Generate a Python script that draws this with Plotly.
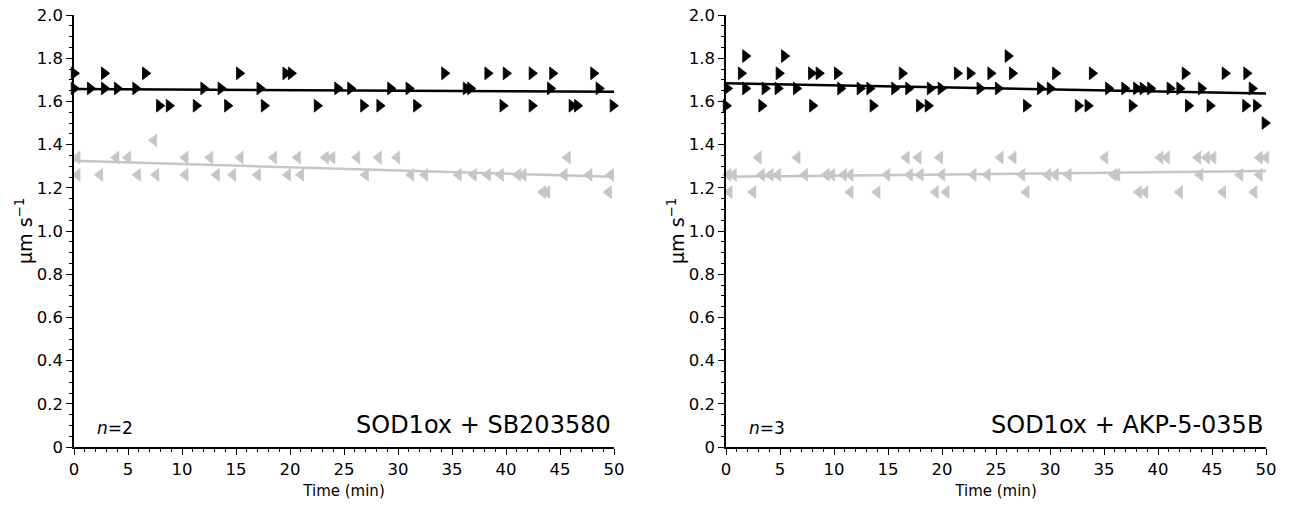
import plotly.graph_objects as go

# ---------------------------------------------------------------- data
# left panel: SOD1ox + SB203580 (n=2)
left_black_t = [0, 2.8, 6.6, 15.3, 19.6, 20.1, 34.3, 38.3, 40.0, 42.4, 44.3, 48.1,
                0, 1.5, 2.8, 4.0, 5.7, 12.0, 13.6, 17.2, 24.4, 25.6, 29.3, 31.0, 36.3, 36.7, 44.1, 48.6,
                7.9, 8.8, 11.3, 14.2, 17.6, 22.5, 26.8, 28.3, 31.7, 39.7, 42.4, 46.1, 46.6, 49.9]
left_black_v = [1.73] * 12 + [1.66] * 16 + [1.58] * 14

left_gray_t = [7.4,
               0.3, 3.9, 5.0, 10.3, 12.6, 15.4, 18.5, 20.7, 23.3, 23.9, 26.2, 28.2, 29.9, 45.7,
               0.3, 2.4, 5.9, 7.6, 10.3, 13.2, 14.7, 17.0, 19.8, 21.0, 27.0, 31.2, 32.5, 35.6,
               37.0, 38.3, 39.5, 41.1, 41.6, 45.4, 47.7, 49.7,
               43.4, 43.8, 49.5]
left_gray_v = [1.42] * 1 + [1.34] * 14 + [1.26] * 22 + [1.18] * 3

# right panel: SOD1ox + AKP-5-035B (n=3)
right_black_t = [1.8, 5.4, 26.1,
                 1.4, 4.9, 7.9, 8.6, 10.3, 16.3, 21.4, 22.6, 24.5, 26.5, 30.5, 33.9, 42.5, 46.2, 48.2,
                 0.1, 1.8, 3.6, 4.8, 6.5, 10.6, 12.4, 13.3, 15.6, 16.9, 18.9, 19.9, 23.5, 25.2,
                 29.1, 30.0, 35.4, 36.9, 38.0, 38.6, 39.3, 41.1, 42.0, 44.0, 48.7,
                 0, 3.3, 8.0, 13.6, 17.9, 18.7, 27.8, 32.6, 33.5, 37.6, 42.8, 44.8, 48.1, 49.1,
                 49.9]
right_black_v = [1.81] * 3 + [1.73] * 15 + [1.66] * 25 + [1.58] * 14 + [1.50] * 1

right_gray_t = [3.0, 6.6, 16.7, 17.8, 19.8, 25.4, 26.6, 35.1, 40.2, 40.8, 43.7, 44.5, 45.1, 49.4, 50.0,
                0.2, 0.7, 3.3, 4.1, 4.8, 7.3, 9.3, 9.8, 10.9, 11.5, 14.9, 17.0, 18.0, 20.0, 22.9,
                24.2, 27.4, 29.8, 30.5, 31.7, 35.9, 36.2, 43.9, 47.6, 49.4,
                0.3, 2.5, 11.5, 14.0, 19.4, 20.4, 27.8, 38.2, 38.8, 42.0, 46.0, 48.9]
right_gray_v = [1.34] * 15 + [1.26] * 25 + [1.18] * 12

# linear trend lines (value at t=0 and t=50)
fit_t = [0, 50]
left_black_fit = [1.657, 1.645]
left_gray_fit = [1.325, 1.251]
right_black_fit = [1.684, 1.637]
right_gray_fit = [1.251, 1.278]

panel_labels = ["SOD1ox + SB203580", "SOD1ox + AKP-5-035B"]
panel_n = ["2", "3"]

y_tickvals = [0, 0.2, 0.4, 0.6, 0.8, 1.0, 1.2, 1.4, 1.6, 1.8, 2.0]
y_ticktext = ["0", "0.2", "0.4", "0.6", "0.8", "1.0", "1.2", "1.4", "1.6", "1.8", "2.0"]
x_tickvals = [0, 5, 10, 15, 20, 25, 30, 35, 40, 45, 50]

# ---------------------------------------------------------------- styling
FONT = "DejaVu Sans"
BLACK = "#000000"
GRAY = "#c6c6c6"
W, H = 1293, 506
ML, MR, MT, MB = 74, 27, 15, 59
plot_w = W - ML - MR
dom_left = [0, 540 / plot_w]
dom_right = [(726 - ML) / plot_w, 1]

fig = go.Figure()

panels = [
    ("x", "y", left_black_t, left_black_v, left_gray_t, left_gray_v, left_black_fit, left_gray_fit),
    ("x2", "y2", right_black_t, right_black_v, right_gray_t, right_gray_v, right_black_fit, right_gray_fit),
]

for xa, ya, bt, bv, gt, gv, bfit, gfit in panels:
    fig.add_trace(go.Scatter(
        x=gt, y=gv, mode="markers", xaxis=xa, yaxis=ya, cliponaxis=False,
        marker=dict(symbol="triangle-left", size=11, color=GRAY,
                    line=dict(width=0.8, color=GRAY)),
        showlegend=False,
    ))
    fig.add_trace(go.Scatter(
        x=fit_t, y=gfit, mode="lines", xaxis=xa, yaxis=ya,
        line=dict(color=GRAY, width=2.5), showlegend=False,
    ))
    fig.add_trace(go.Scatter(
        x=bt, y=bv, mode="markers", xaxis=xa, yaxis=ya, cliponaxis=False,
        marker=dict(symbol="triangle-right", size=11, color=BLACK,
                    line=dict(width=0.8, color=BLACK)),
        showlegend=False,
    ))
    fig.add_trace(go.Scatter(
        x=fit_t, y=bfit, mode="lines", xaxis=xa, yaxis=ya,
        line=dict(color=BLACK, width=2.5), showlegend=False,
    ))

xaxis_style = dict(
    range=[0, 50], tickvals=x_tickvals, showgrid=False, zeroline=False,
    showline=True, linecolor=BLACK, linewidth=1.5, automargin=False,
    ticks="outside", ticklen=6, tickwidth=1, tickcolor=BLACK,
    minor=dict(ticks="outside", dtick=1, ticklen=3, tickwidth=1, tickcolor=BLACK),
    tickfont=dict(family=FONT, size=16.5, color=BLACK),
    title=dict(text="Time (min)", standoff=8, font=dict(family=FONT, size=15, color=BLACK)),
)
yaxis_style = dict(
    range=[0, 2.0], tickvals=y_tickvals, ticktext=y_ticktext,
    showgrid=False, zeroline=False, automargin=False,
    showline=True, linecolor=BLACK, linewidth=1.5,
    ticks="outside", ticklen=6, tickwidth=1, tickcolor=BLACK,
    minor=dict(ticks="outside", dtick=0.05, ticklen=3, tickwidth=1, tickcolor=BLACK),
    tickfont=dict(family=FONT, size=16.5, color=BLACK),
    domain=[0, 1],
)

fig.update_layout(
    width=W, height=H,
    margin=dict(l=ML, r=MR, t=MT, b=MB),
    plot_bgcolor="white", paper_bgcolor="white",
    font=dict(family=FONT, color=BLACK),
    xaxis=dict(xaxis_style, domain=dom_left, anchor="y"),
    yaxis=dict(yaxis_style, anchor="x"),
    xaxis2=dict(xaxis_style, domain=dom_right, anchor="y2"),
    yaxis2=dict(yaxis_style, anchor="x2"),
)

for i, (xr, yr) in enumerate([("x", "y"), ("x2", "y2")]):
    fig.add_annotation(
        xref=xr, yref=yr, x=1.9, y=0.09, xanchor="left", yanchor="middle",
        text="<i>n</i>=" + panel_n[i], showarrow=False,
        font=dict(family=FONT, size=17, color=BLACK),
    )
    fig.add_annotation(
        xref=xr, yref=yr, x=49.9, y=0.1, xanchor="right", yanchor="middle",
        text=panel_labels[i], showarrow=False,
        font=dict(family=FONT, size=24, color=BLACK),
    )
    fig.add_annotation(
        xref=xr + " domain", yref=yr + " domain", x=0, y=0.5, xshift=-50,
        xanchor="center", yanchor="middle", textangle=-90,
        text="μm s<sup>−1</sup>", showarrow=False,
        font=dict(family=FONT, size=19, color=BLACK),
    )

# drop the page's default body margin so the figure sits at the window origin
fig.write_html("out.html", config={"displayModeBar": False},
               post_script="document.body.style.margin='0';")
